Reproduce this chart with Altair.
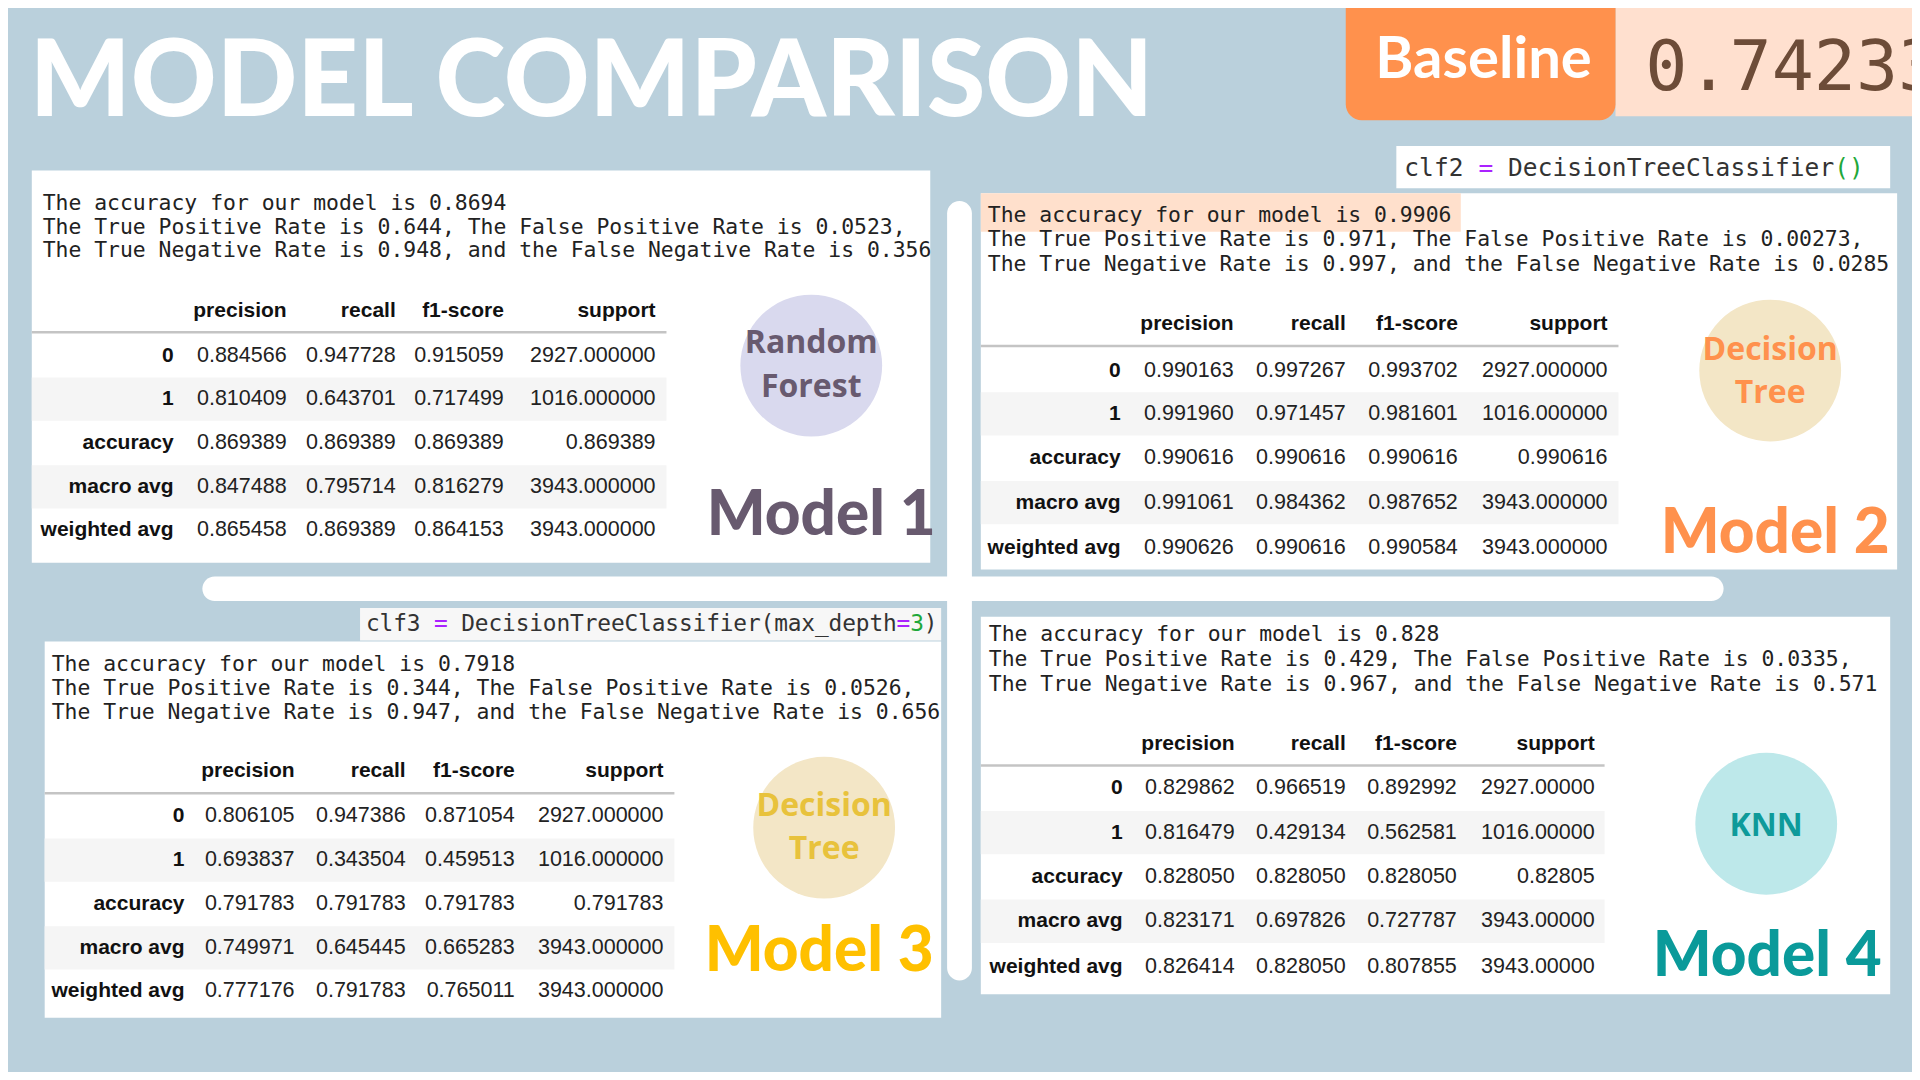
import altair as alt
import pandas as pd

# ---- data ----
title_text = "MODEL COMPARISON"
baseline_label = "Baseline"
baseline_value = "0.74233"

model_names = ["Model 1", "Model 2", "Model 3", "Model 4"]
algo_labels = [["Random", "Forest"], ["Decision", "Tree"], ["Decision", "Tree"], ["KNN"]]
accuracy = ["0.8694", "0.9906", "0.7918", "0.828"]
tpr = ["0.644", "0.971", "0.344", "0.429"]
fpr = ["0.0523", "0.00273", "0.0526", "0.0335"]
tnr = ["0.948", "0.997", "0.947", "0.967"]
fnr = ["0.356", "0.0285", "0.656", "0.571"]

col_names = ["precision", "recall", "f1-score", "support"]
row_names = ["0", "1", "accuracy", "macro avg", "weighted avg"]

report_1 = [
    ["0.884566", "0.947728", "0.915059", "2927.000000"],
    ["0.810409", "0.643701", "0.717499", "1016.000000"],
    ["0.869389", "0.869389", "0.869389", "0.869389"],
    ["0.847488", "0.795714", "0.816279", "3943.000000"],
    ["0.865458", "0.869389", "0.864153", "3943.000000"],
]
report_2 = [
    ["0.990163", "0.997267", "0.993702", "2927.000000"],
    ["0.991960", "0.971457", "0.981601", "1016.000000"],
    ["0.990616", "0.990616", "0.990616", "0.990616"],
    ["0.991061", "0.984362", "0.987652", "3943.000000"],
    ["0.990626", "0.990616", "0.990584", "3943.000000"],
]
report_3 = [
    ["0.806105", "0.947386", "0.871054", "2927.000000"],
    ["0.693837", "0.343504", "0.459513", "1016.000000"],
    ["0.791783", "0.791783", "0.791783", "0.791783"],
    ["0.749971", "0.645445", "0.665283", "3943.000000"],
    ["0.777176", "0.791783", "0.765011", "3943.000000"],
]
report_4 = [
    ["0.829862", "0.966519", "0.892992", "2927.00000"],
    ["0.816479", "0.429134", "0.562581", "1016.00000"],
    ["0.828050", "0.828050", "0.828050", "0.82805"],
    ["0.823171", "0.697826", "0.727787", "3943.00000"],
    ["0.826414", "0.828050", "0.807855", "3943.00000"],
]
reports = [report_1, report_2, report_3, report_4]

code_2 = [("clf2 ", "ink"), ("=", "op"), (" DecisionTreeClassifier", "ink"), ("()", "lit")]
code_3 = [("clf3 ", "ink"), ("=", "op"), (" DecisionTreeClassifier(max_depth", "ink"),
          ("=", "op"), ("3", "lit"), (")", "ink")]

# ---- layout / style (pixel space of a 1920x1080 canvas) ----
BG = "#BAD0DC"
W, H = 1920, 1080
MONO = "DejaVu Sans Mono"
SANS = "Liberation Sans"
code_colors = {"ink": "#333333", "op": "#AA22FF", "lit": "#1FA83A"}

panels = [
    dict(box=(24, 930, 165, 563), tx=35, lines=(205, 229, 253), head=314, rule=329, tx2=664,
         rows=(353, 397, 442, 486, 530), cols=(167, 281, 391, 500, 653),
         circ=(810, 363), fill="#D9D9EE", lab=(350, 395), lab_c="#685A6F",
         model=(820, 535), model_c="#685A6F"),
    dict(box=(981, 1905, 188, 570), tx=988, lines=(217, 242, 267), head=327, rule=343, tx2=1624,
         rows=(368, 412, 457, 502, 548), cols=(1122, 1236, 1349, 1462, 1613),
         circ=(1777, 368), fill="#F3E6C6", lab=(357, 401), lab_c="#FF914D",
         model=(1782, 553), model_c="#FF914D"),
    dict(box=(37, 941, 643, 1025), tx=44, lines=(673, 697, 722), head=781, rule=797, tx2=672,
         rows=(820, 865, 909, 954, 998), cols=(178, 289, 401, 511, 661),
         circ=(823, 832), fill="#F3E6C6", lab=(820, 864), lab_c="#E8C23C",
         model=(818, 977), model_c="#FFC000"),
    dict(box=(981, 1898, 618, 1001), tx=989, lines=(643, 668, 693), head=753, rule=769, tx2=1610,
         rows=(792, 837, 882, 927, 973), cols=(1124, 1237, 1349, 1461, 1600),
         circ=(1773, 828), fill="#BDE8EA", lab=(840,), lab_c="#0E9A9A",
         model=(1774, 983), model_c="#0A9A9A"),
]

xs = alt.Scale(domain=[0, W], nice=False, zero=False)
ys = alt.Scale(domain=[0, H], nice=False, zero=False, reverse=True)
X = alt.X("x:Q", scale=xs, axis=None)
Y = alt.Y("y:Q", scale=ys, axis=None)

plain_rects = []
rules = []
circles = []
texts = {k: [] for k in ["mono", "head", "idx", "val", "circ", "model"]}

# top-right baseline strip
plain_rects.append(dict(x=1621, x2=W, y=0, y2=110, color="#FFE0CF"))

for i, p in enumerate(panels):
    x1, x2, y1, y2 = p["box"]
    plain_rects.append(dict(x=x1, x2=x2, y=y1, y2=y2, color="white"))
    for r in (1, 3):
        yc = p["rows"][r]
        plain_rects.append(dict(x=x1, x2=p["tx2"], y=yc - 22, y2=yc + 22, color="#F5F5F5"))
    rules.append(dict(x=x1, x2=p["tx2"], y=p["rule"], color="#C4C4C4"))
    circles.append(dict(x=p["circ"][0], y=p["circ"][1], color=p["fill"]))

    lines = [
        f"The accuracy for our model is {accuracy[i]}",
        f"The True Positive Rate is {tpr[i]}, The False Positive Rate is {fpr[i]},",
        f"The True Negative Rate is {tnr[i]}, and the False Negative Rate is {fnr[i]}",
    ]
    for t, yy in zip(lines, p["lines"]):
        texts["mono"].append(dict(x=p["tx"], y=yy, text=t, color="#222222", size=21.4))

    for c, name in enumerate(col_names):
        texts["head"].append(dict(x=p["cols"][c + 1], y=p["head"], text=name, color="#111111", size=21))
    for r, name in enumerate(row_names):
        texts["idx"].append(dict(x=p["cols"][0], y=p["rows"][r], text=name, color="#111111", size=21))
        for c in range(4):
            texts["val"].append(dict(x=p["cols"][c + 1], y=p["rows"][r], text=reports[i][r][c],
                                     color="#222222", size=21.5))

    for t, yy in zip(algo_labels[i], p["lab"]):
        texts["circ"].append(dict(x=p["circ"][0], y=yy, text=t, color=p["lab_c"], size=32))
    texts["model"].append(dict(x=p["model"][0], y=p["model"][1], text=model_names[i],
                               color=p["model_c"], size=62))

# code cells above panel 2 and panel 3
plain_rects.append(dict(x=1400, x2=1898, y=140, y2=183, color="white"))
plain_rects.append(dict(x=355, x2=941, y=609, y2=642, color="#F7F7F7"))
# highlighted accuracy line in panel 2
plain_rects.append(dict(x=981, x2=1465, y=188, y2=227, color="#FFE0CC"))


def code_chars(parts, x0, y0, fs, pitch):
    # one glyph per column so the coloured tokens sit on the same monospace grid
    out, k = [], 0
    for t, kind in parts:
        for ch in t:
            if ch != " ":
                out.append(dict(x=x0 + k * pitch, y=y0, text=ch, color=code_colors[kind], size=fs))
            k += 1
    return out


code_rows = code_chars(code_2, 1408, 171, 24.5, 14.95) + code_chars(code_3, 361, 632, 22.8, 13.72)

bars = pd.DataFrame([
    dict(x=196, x2=1730, y=577, y2=602, color="white"),
    dict(x=947, x2=972, y=196, y2=987, color="white"),
])

layers = []
layers.append(alt.Chart(bars).mark_rect(cornerRadius=12.5).encode(
    x=X, x2="x2:Q", y=Y, y2="y2:Q", color=alt.Color("color:N", scale=None)))
layers.append(alt.Chart(pd.DataFrame(plain_rects)).mark_rect().encode(
    x=X, x2="x2:Q", y=Y, y2="y2:Q", color=alt.Color("color:N", scale=None)))
layers.append(alt.Chart(pd.DataFrame([dict(x=1349, x2=1621, y=0, y2=114)])).mark_rect(
    color="#FF914D", cornerRadiusBottomLeft=16, cornerRadiusBottomRight=16).encode(
    x=X, x2="x2:Q", y=Y, y2="y2:Q"))
layers.append(alt.Chart(pd.DataFrame(rules)).mark_rule(strokeWidth=2.5).encode(
    x=X, x2="x2:Q", y=Y, color=alt.Color("color:N", scale=None)))
layers.append(alt.Chart(pd.DataFrame(circles)).mark_circle(size=3.14159 * 80 * 80, opacity=1).encode(
    x=X, y=Y, color=alt.Color("color:N", scale=None)))


def text_layer(rows, font, weight, align, baseline="alphabetic", clip=False):
    return alt.Chart(pd.DataFrame(rows)).mark_text(
        font=font, fontWeight=weight, align=align, baseline=baseline, clip=clip).encode(
        x=X, y=Y, text="text:N",
        color=alt.Color("color:N", scale=None),
        size=alt.Size("size:Q", scale=None))


layers.append(text_layer([dict(x=22, y=110, text=title_text, color="white", size=106)],
                         "Lato", 900, "left"))
layers.append(text_layer([dict(x=1488, y=71, text=baseline_label, color="white", size=58)],
                         "Lato", "bold", "center"))
layers.append(text_layer([dict(x=1651, y=83, text=baseline_value, color="#6D4C38", size=70)],
                         MONO, "normal", "left", clip=True))
layers.append(text_layer(code_rows, MONO, "normal", "left"))
layers.append(text_layer(texts["mono"], MONO, "normal", "left"))
layers.append(text_layer(texts["head"], SANS, "bold", "right"))
layers.append(text_layer(texts["idx"], SANS, "bold", "right", "middle"))
layers.append(text_layer(texts["val"], SANS, "normal", "right", "middle"))
layers.append(text_layer(texts["circ"], "Open Sans", "bold", "center"))
layers.append(text_layer(texts["model"], "Lato", 900, "center"))

chart = alt.layer(*layers).properties(
    width=1904,
    height=1064,
    background=BG,
    padding=0,
    autosize=alt.AutoSizeParams(type="none"),
).configure_view(strokeWidth=0)

chart.save("out.html", embed_options={"renderer": "svg", "actions": False})
